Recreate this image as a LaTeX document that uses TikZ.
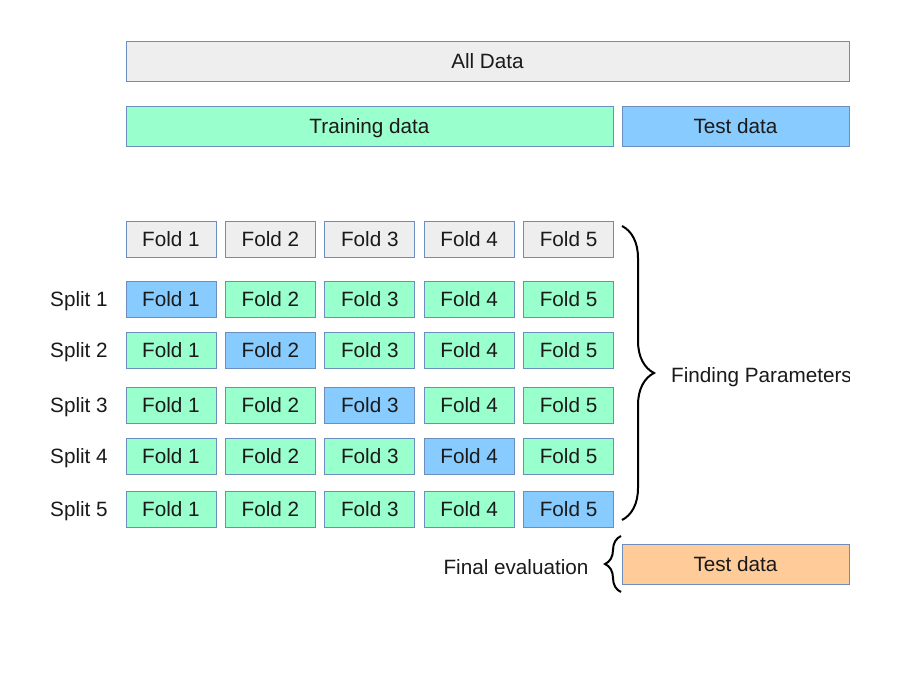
\documentclass[tikz,border=0pt]{standalone}
\usepackage{fontspec}
\setmainfont{Liberation Sans}
\usetikzlibrary{decorations.pathreplacing}
\definecolor{bord}{HTML}{6C8EBF}
\definecolor{grayf}{HTML}{EEEEEE}
\definecolor{greenf}{HTML}{99FFCC}
\definecolor{bluef}{HTML}{88CCFF}
\definecolor{orangef}{HTML}{FFCC99}
\definecolor{txt}{HTML}{1A1A1A}
\begin{document}
\begin{tikzpicture}[x=1pt,y=-1pt,
  lbl/.style={font=\fontsize{20.7}{24}\selectfont, text=txt, inner sep=0pt, text height=15pt, text depth=0pt},
  box/.style={lbl, draw=bord, line width=1pt, minimum height=40pt},
  fold/.style={box, minimum width=90pt, minimum height=36pt},
  brc/.style={decorate, line width=2pt, draw=black}]
\useasboundingbox (0,0) rectangle (900,694);
\fill[white] (0,0) rectangle (900,694);
% top bars
\node[box, fill=grayf, minimum width=723pt] (all) at (487.5,61) {All Data};
\node[box, fill=greenf, minimum width=487pt] (train) at (369.5,126) {Training data};
\node[box, fill=bluef, minimum width=227pt] (test) at (735.5,126) {Test data};
% header folds
\foreach \i in {1,...,5}{
  \node[fold, fill=grayf] (h\i) at ({171+99.4*(\i-1)},239) {Fold \i};
}
% splits
\foreach \k/\y in {1/299,2/350,3/405,4/456,5/509}{
  \node[lbl, anchor=west] (s\k) at (50,\y) {Split \k};
  \foreach \i in {1,...,5}{
    \ifnum\i=\k
      \node[fold, fill=bluef] (f\k\i) at ({171+99.4*(\i-1)},\y) {Fold \i};
    \else
      \node[fold, fill=greenf] (f\k\i) at ({171+99.4*(\i-1)},\y) {Fold \i};
    \fi
  }
}
% braces
\coordinate (b1) at (622,226);
\coordinate (b2) at (622,520);
\draw[brc, decoration={brace, amplitude=32pt}] (b1) -- (b2);
\begin{scope}
\clip (0,0) rectangle (849,694);
\node[lbl, anchor=west] (fp) at (671,375) {Finding Parameters};
\end{scope}
\node[box, fill=orangef, minimum width=227pt] (final) at (735.5,564) {Test data};
\coordinate (c1) at (621,592);
\coordinate (c2) at (621,536);
\draw[brc, decoration={brace, amplitude=16pt}] (c1) -- (c2);
\node[lbl] (fe) at (516,567) {Final evaluation};
\end{tikzpicture}
\end{document}
